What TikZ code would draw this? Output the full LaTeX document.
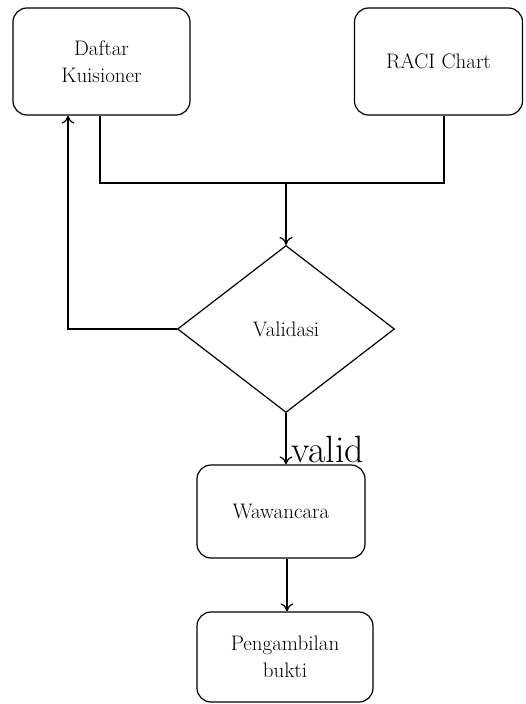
\documentclass[tikz,border=0pt]{standalone}
\usetikzlibrary{shapes.geometric,arrows.meta}
\begin{document}
\begin{tikzpicture}[x=1pt,y=-1pt, line width=1.2pt,
  box/.style={draw, rounded corners=14pt, align=center, font=\fontsize{21}{27}\selectfont, inner sep=0pt},
  dec/.style={draw, diamond, inner sep=0pt, font=\fontsize{21}{27}\selectfont},
  arr/.style={-{To[length=8pt,width=13pt]}}]
\useasboundingbox (0,0) rectangle (525,704);
\node[box, minimum width=177pt, minimum height=107pt] (kuis) at (101.5,61.5) {Daftar\\Kuisioner};
\node[box, minimum width=168pt, minimum height=107pt] (raci) at (438.5,61.5) {RACI Chart};
\node[dec, minimum width=217pt, minimum height=167pt] (val) at (286,329) {Validasi};
\node[box, minimum width=168pt, minimum height=93pt] (waw) at (281,511.5) {Wawancara};
\node[box, minimum width=176pt, minimum height=90pt] (pb) at (285,657) {Pengambilan\\bukti};
\coordinate (j) at (286,183);
\draw ([xshift=-1.5pt]kuis.south) |- (j) -| ([xshift=5.5pt]raci.south);
\draw[arr] (j) -- (val.north);
\draw[arr] (val.west) -| ([xshift=-33.5pt]kuis.south);
\draw[arr] (val.south) -- (val.south |- waw.north);
\node[anchor=base west, font=\fontsize{38}{40}\selectfont, inner sep=0pt] (lbl) at (291,462) {valid};
\draw[arr] ([xshift=6pt]waw.south) -- ([xshift=6pt]waw.south |- pb.north);
\end{tikzpicture}
\end{document}
